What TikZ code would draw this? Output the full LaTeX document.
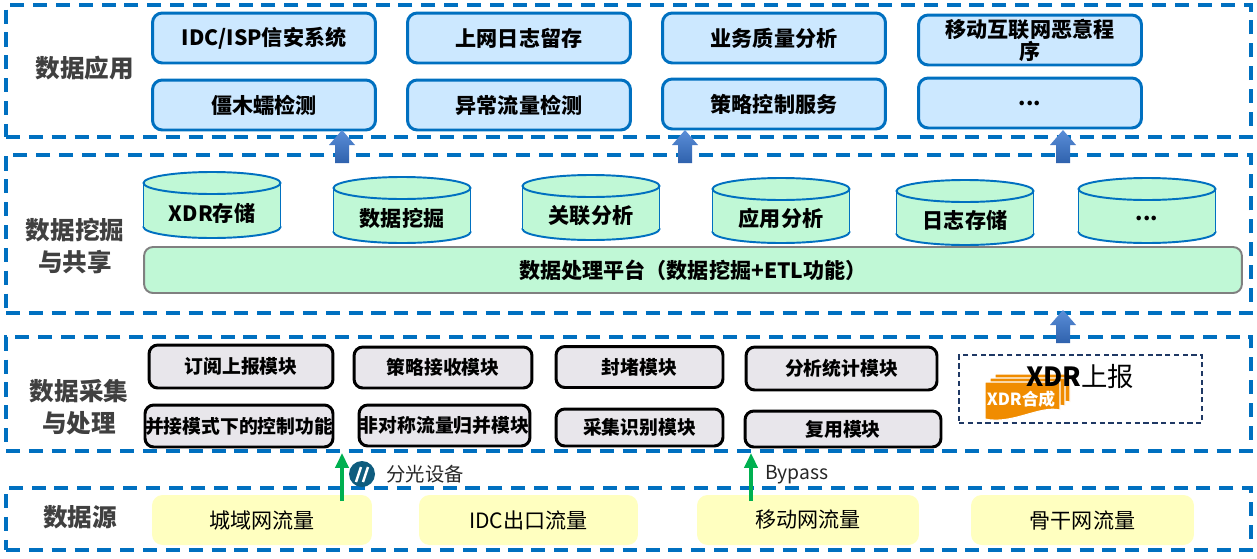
\documentclass[tikz,border=0pt]{standalone}
\usepackage{fontspec}
\setmainfont{Noto Sans CJK SC}
\usepackage{xcolor}
\usepackage{tikz}
\usetikzlibrary{arrows.meta}
\usetikzlibrary{fit}

\definecolor{lineblue}{HTML}{0070C0}
\definecolor{appfill}{HTML}{CCE8FF}
\definecolor{mint}{HTML}{C0F8D6}
\definecolor{modfill}{HTML}{E8E6EB}
\definecolor{srcfill}{HTML}{FFFFC0}
\definecolor{labelgray}{HTML}{404040}
\definecolor{arrtop}{HTML}{5B8ED8}
\definecolor{arrbot}{HTML}{2F62AD}
\definecolor{arrgreen}{HTML}{00B050}
\definecolor{xdrorange}{HTML}{F08C00}
\definecolor{xdrnavy}{HTML}{1F3864}
\definecolor{icondark}{HTML}{0E5C7E}

\tikzset{
  layer/.style={draw=lineblue, line width=2.3pt, dash pattern=on 8pt off 5pt, inner sep=0pt},
  layertitle/.style={text=labelgray, font=\bfseries\fontsize{14}{18}\selectfont, align=center},
  appbox/.style={draw=lineblue, fill=appfill, line width=1.7pt, rounded corners=5.5pt,
    minimum width=4.46cm, minimum height=1cm, inner sep=0pt, align=center,
    font=\bfseries\fontsize{12}{12.5}\selectfont},
  cyl/.style={draw=lineblue, fill=mint, line width=1.1pt},
  cyltext/.style={font=\bfseries\fontsize{12}{14}\selectfont},
  modbox/.style={draw=black, fill=modfill, line width=1.7pt, rounded corners=5pt, inner sep=0pt,
    font=\bfseries\fontsize{10.7}{12}\selectfont},
  srcbox/.style={fill=srcfill, rounded corners=6pt, minimum height=1cm,
    font=\fontsize{12}{14}\selectfont},
  bluearr/.style={top color=arrtop, bottom color=arrbot, draw=none},
  greenarr/.style={draw=arrgreen, line width=2.3pt, -{Triangle[width=7.5pt,length=8.5pt]}},
  note/.style={anchor=west, inner sep=0pt, text=black!85, font=\fontsize{11}{13}\selectfont},
}

\begin{document}
\begin{tikzpicture}[x=0.02cm,y=-0.02cm]
    \useasboundingbox (0,0) rectangle (1257,558);
    % layers
    \node[layer, fit={(6,5) (1251,137)}] (lay1) {};
    \node[layer, fit={(6,155) (1251,313)}] (lay2) {};
    \node[layer, fit={(6,337) (1251,451)}] (lay3) {};
    \node[layer, fit={(6,488) (1251,550)}] (lay4) {};
    \node[layertitle] (t1) at (85,68) {数据应用};
    \node[layertitle] (t2) at (75,246) {数据挖掘\\与共享};
    \node[layertitle] (t3) at (79,407) {数据采集\\与处理};
    \node[layertitle] (t4) at (80,517) {数据源};

    % applications
    \node[appbox] (a1) at (264,38) {IDC/ISP信安系统};
    \node[appbox] (a2) at (519,38) {上网日志留存};
    \node[appbox] (a3) at (774,38) {业务质量分析};
    \node[appbox] (a4) at (1030,40) {移动互联网恶意程\\序};
    \node[appbox] (b1) at (264,105) {僵木蠕检测};
    \node[appbox] (b2) at (519,105) {异常流量检测};
    \node[appbox] (b3) at (774,104) {策略控制服务};
    \node[appbox] (b4) at (1030,103) {...};

    % mining
    \foreach \x/\t/\b/\name/\txt in {212/172/238/c1/XDR存储, 402/177/243/c2/数据挖掘,
        591/175/240/c3/关联分析, 781/178/243/c4/应用分析, 965/180/245/c5/日志存储,
        1147/178/243/c6/{{...}}}{
      \filldraw[cyl] (\x,\b-11) ellipse[x radius=1.37cm, y radius=0.22cm];
      \fill[mint] (\x-68.5,\t+11) rectangle (\x+68.5,\b-11);
      \draw[cyl, fill=none] (\x-68.5,\t+11) -- (\x-68.5,\b-11) (\x+68.5,\t+11) -- (\x+68.5,\b-11);
      \filldraw[cyl] (\x,\t+11) ellipse[x radius=1.37cm, y radius=0.22cm];
      \node[cyltext] (\name) at (\x,{(\t+\b)/2+8}) {\txt};
    }
    \node[draw=black!50, fill=mint, line width=1.1pt, rounded corners=5pt, inner sep=0pt,
      minimum width=21.96cm, minimum height=0.92cm, font=\bfseries\fontsize{12}{14}\selectfont]
      (plat) at (693,270) {数据处理平台（数据挖掘+ETL功能）};

    % collection
    \node[modbox, minimum width=3.68cm, minimum height=0.86cm] (d1) at (241,366.5) {订阅上报模块};
    \node[modbox, minimum width=3.56cm, minimum height=0.82cm] (d2) at (443,367.5) {策略接收模块};
    \node[modbox, minimum width=3.34cm, minimum height=0.82cm] (d3) at (639.5,367) {封堵模块};
    \node[modbox, minimum width=3.82cm, minimum height=0.86cm] (d4) at (841.5,368.5) {分析统计模块};
    \node[modbox, minimum width=3.72cm, minimum height=0.84cm] (e1) at (239,426) {并接模式下的控制功能};
    \node[modbox, minimum width=3.42cm, minimum height=0.82cm] (e2) at (444.5,425.5) {非对称流量归并模块};
    \node[modbox, minimum width=3.34cm, minimum height=0.74cm] (e3) at (639.5,427.5) {采集识别模块};
    \node[modbox, minimum width=3.92cm, minimum height=0.72cm] (e4) at (843,429) {复用模块};

    % xdr
    \node[draw=xdrnavy, line width=0.6pt, dash pattern=on 3pt off 2pt, inner sep=0pt,
      fit={(959,355) (1202,423)}] (xdrbox) {};
    \foreach \d in {10,5,0}
      \filldraw[draw=white, fill=xdrorange, line width=0.6pt]
        (985+\d,382-0.8*\d) -- (1060+\d,382-0.8*\d) -- (1060+\d,410-0.8*\d)
        .. controls (1040+\d,405-0.8*\d) and (1012+\d,425-0.8*\d) .. (985+\d,419-0.8*\d) -- cycle;
    \node[text=white, font=\bfseries\fontsize{9.5}{11}\selectfont] (xdrdoc) at (1021,399) {XDR合成};
    \node[font=\fontsize{15}{17}\selectfont] (xdrrep) at (1080,377) {\textbf{XDR}上报};

    % sources
    \node[srcbox, minimum width=4.4cm] (s1) at (262,520) {城域网流量};
    \node[srcbox, minimum width=4.38cm] (s2) at (528.5,520) {IDC出口流量};
    \node[srcbox, minimum width=4.44cm] (s3) at (808,520) {移动网流量};
    \node[srcbox, minimum width=4.46cm] (s4) at (1082.5,520) {骨干网流量};

    % arrows between layers
    \foreach \x/\t/\b in {342/130/163, 685/130/163, 1063/130/163, 1063/310/343}
      \shade[bluearr] (\x,\t) -- (\x+13,\t+15) -- (\x+7,\t+15) -- (\x+7,\b)
        -- (\x-7,\b) -- (\x-7,\t+15) -- (\x-13,\t+15) -- cycle;
    \coordinate (g1) at (342,501);
    \coordinate (g2) at (751,501);
    \draw[greenarr] (g1) -- (g1 |- lay3.south);
    \draw[greenarr] (g2) -- (g2 |- lay3.south);
    \node[circle, fill=icondark, minimum size=0.52cm, inner sep=0pt] (split) at (362,474) {};
    \draw[white, line width=1.4pt] (356,482) -- (361,467) (363,482) -- (368,467);
    \node[note] (splittext) at (386,474) {分光设备};
    \node[note] (bypass) at (765,475) {Bypass};
\end{tikzpicture}
\end{document}
